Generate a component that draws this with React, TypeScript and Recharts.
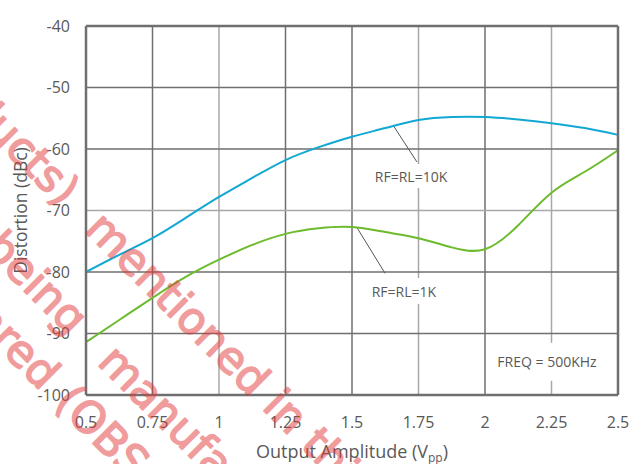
import React from "react";
import {
  LineChart,
  Line,
  XAxis,
  YAxis,
  ReferenceLine,
  ReferenceDot,
} from "recharts";

// Output amplitude (Vpp)
const amplitude = [
  0.5, 0.625, 0.75, 0.875, 1.0, 1.125, 1.25, 1.375, 1.5, 1.625, 1.75, 1.875, 2.0, 2.125, 2.25, 2.375, 2.5,
];
// RF = RL = 10K
const dist10k = [
  -80.0, -77.2, -74.5, -71.2, -67.8, -64.7, -61.8, -59.7, -58.0, -56.6, -55.3, -54.8, -54.8, -55.2, -55.8, -56.6, -57.7,
];
// RF = RL = 1K
const dist1k = [
  -91.4, -87.8, -84.2, -80.8, -78.0, -75.6, -73.8, -72.9, -72.7, -73.5, -74.5, -76.0, -76.3, -72.4, -67.1, -63.7, -60.2,
];

const xTicks = [0.5, 0.75, 1, 1.25, 1.5, 1.75, 2, 2.25, 2.5];
const yTicks = [-100, -90, -80, -70, -60, -50, -40];
const lightX = [1, 1.75, 2.25];
const lightY = [-70];

const data = amplitude.map((a, i) => ({ a, k10: dist10k[i], k1: dist1k[i] }));

const TXT = "#595959";
const DARK = "#6f6f6f";
const LIGHT = "#a8a8a8";
const FONT = "'Open Sans', sans-serif";

const boxLabel = (text: string, w: number, h: number) => (p: any) => (
  <g>
    <rect x={p.cx - w / 2} y={p.cy - h / 2} width={w} height={h} fill="#fff" />
    <text
      x={p.cx}
      y={p.cy}
      textAnchor="middle"
      dominantBaseline="central"
      fontSize={14}
      fontFamily={FONT}
      fill={TXT}
    >
      {text}
    </text>
  </g>
);

export default function App() {
  return (
    <div style={{ position: "absolute", left: 0, top: 0, width: 631, height: 464, background: "#fff" }}>
      <LineChart width={631} height={464} data={data} margin={{ top: 26, right: 13, bottom: 0, left: 0 }}>
        <XAxis
          dataKey="a"
          type="number"
          domain={[0.5, 2.5]}
          ticks={xTicks}
          axisLine={false}
          tickLine={false}
          tickSize={0}
          tickMargin={22}
          height={69}
          tick={{ fill: TXT, fontSize: 16, fontFamily: FONT }}
          label={(p: any) => {
            const vb = p.viewBox;
            return (
              <text
                x={vb.x + vb.width / 2}
                y={458}
                textAnchor="middle"
                fontSize={18}
                fontFamily={FONT}
                fill={TXT}
              >
                Output Amplitude (V
                <tspan fontSize={12} dy={4}>pp</tspan>
                <tspan dy={-4}>)</tspan>
              </text>
            );
          }}
        />
        <YAxis
          type="number"
          domain={[-100, -40]}
          ticks={yTicks}
          axisLine={false}
          tickLine={false}
          tickSize={0}
          tickMargin={16}
          width={86}
          tick={{ fill: TXT, fontSize: 16, fontFamily: FONT }}
          label={(p: any) => {
            const vb = p.viewBox;
            const cy = vb.y + vb.height / 2;
            return (
              <text
                x={20}
                y={cy}
                transform={`rotate(-90 20 ${cy})`}
                textAnchor="middle"
                dominantBaseline="central"
                fontSize={17.5}
                fontFamily={FONT}
                fill={TXT}
              >
                Distortion (dBc)
              </text>
            );
          }}
        />
        {xTicks.slice(1, -1).map((t) => (
          <ReferenceLine key={"x" + t} x={t} stroke={lightX.includes(t) ? LIGHT : DARK} strokeWidth={1.5} />
        ))}
        {yTicks.slice(1, -1).map((t) => (
          <ReferenceLine key={"y" + t} y={t} stroke={lightY.includes(t) ? LIGHT : DARK} strokeWidth={1.5} />
        ))}
        <ReferenceDot x={1.722} y={-64.4} r={0} shape={boxLabel("RF=RL=10K", 84, 24)} />
        <ReferenceDot x={1.695} y={-83.1} r={0} shape={boxLabel("RF=RL=1K", 74, 26)} />
        <ReferenceDot x={2.233} y={-94.6} r={0} shape={boxLabel("FREQ = 500KHz", 108, 38)} />
        <ReferenceLine segment={[{ x: 1.654, y: -56.1 }, { x: 1.744, y: -62.1 }]} stroke="#555" strokeWidth={1} />
        <ReferenceLine segment={[{ x: 1.519, y: -72.8 }, { x: 1.624, y: -80.2 }]} stroke="#555" strokeWidth={1} />
        <Line
          type="natural"
          dataKey="k10"
          stroke="#12a8d3"
          strokeWidth={2}
          dot={false}
          isAnimationActive={false}
        />
        <Line
          type="natural"
          dataKey="k1"
          stroke="#6cbb2c"
          strokeWidth={2}
          dot={false}
          isAnimationActive={false}
        />
        <ReferenceLine x={0.5} stroke={DARK} strokeWidth={2.5} />
        <ReferenceLine x={2.5} stroke={DARK} strokeWidth={2.5} />
        <ReferenceLine y={-40} stroke={DARK} strokeWidth={2.5} />
        <ReferenceLine y={-100} stroke={DARK} strokeWidth={2.5} />
      </LineChart>
      <svg
        width={631}
        height={464}
        style={{ position: "absolute", left: 0, top: 0, pointerEvents: "none" }}
      >
        <g
          transform="rotate(45)"
          opacity={0.5}
          fill="#e23b3b"
          stroke="#e23b3b"
          strokeWidth={1.6}
          strokeLinejoin="round"
          fontSize={44}
          fontFamily="'DejaVu Sans', sans-serif"
        >
          <text x={190} y={104} textAnchor="end">Products)</text>
          <text x={222} y={104}>mentioned in this document</text>
          <text x={287} y={189} textAnchor="end">no longer being</text>
          <text x={325} y={189}>manufactured</text>
          <text x={306} y={248} textAnchor="end">declared</text>
          <text x={323} y={248}>(OBSOLETE)</text>
        </g>
      </svg>
    </div>
  );
}
